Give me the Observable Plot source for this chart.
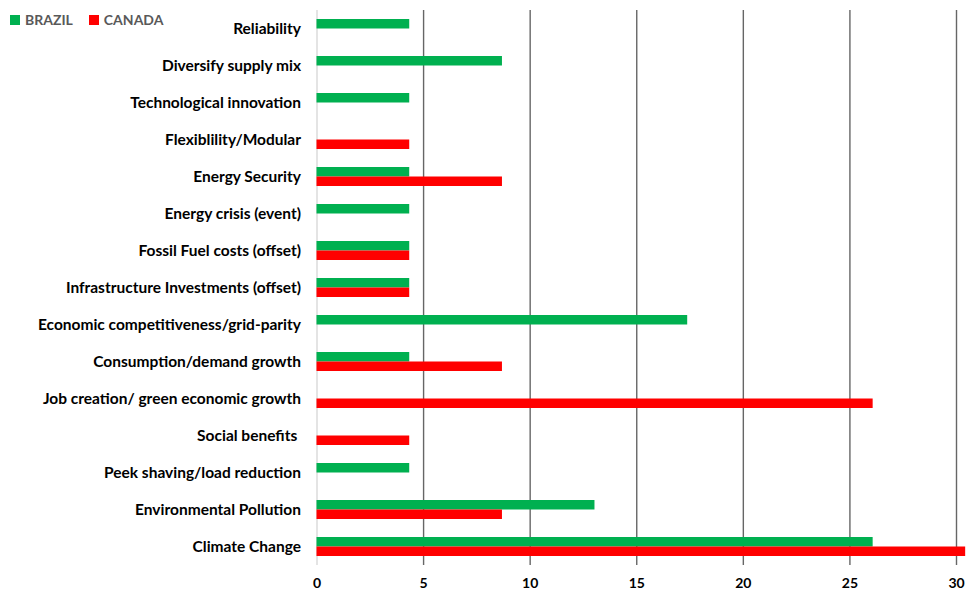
<!DOCTYPE html>
<html>
<head>
<meta charset="utf-8">
<script src="https://cdn.jsdelivr.net/npm/d3@7"></script>
<script src="https://cdn.jsdelivr.net/npm/@observablehq/plot@0.6"></script>
<style>
  html, body { margin: 0; padding: 0; background: #fff; }
  #wrap { position: relative; width: 968px; height: 592px; font-family: Lato, "Open Sans", sans-serif; }
  #legend { position: absolute; left: 10px; top: 11px; display: flex; gap: 16px; font-size: 14px; font-weight: bold; color: #595959; }
  #legend span.item { display: flex; align-items: center; gap: 5px; }
  #legend span.sw { display: inline-block; width: 10px; height: 10px; }
  #chart g[aria-label="y-axis tick label"] text { font-size: 15.5px; }
</style>
</head>
<body>
<div id="wrap">
  <div id="chart"></div>
  <div id="legend"></div>
</div>
<script>
// Drivers, listed top to bottom
const categories = [
  "Reliability",
  "Diversify supply mix",
  "Technological innovation",
  "Flexiblility/Modular",
  "Energy Security",
  "Energy crisis (event)",
  "Fossil Fuel costs (offset)",
  "Infrastructure Investments (offset)",
  "Economic competitiveness/grid-parity",
  "Consumption/demand growth",
  "Job creation/ green economic growth",
  "Social benefits ",
  "Peek shaving/load reduction",
  "Environmental Pollution",
  "Climate Change"
];

// Share of mentions (%), null where a country has none
const brazil = [4.35, 8.70, 4.35, null, 4.35, 4.35, 4.35, 4.35, 17.39, 4.35, null, null, 4.35, 13.04, 26.09];
const canada = [null, null, null, 4.35, 8.70, null, 4.35, 4.35, null, 8.70, 26.09, 4.35, null, 8.70, 30.43];

const series = ["BRAZIL", "CANADA"];
const colors = ["#00B050", "#FF0000"];
const xTicks = [0, 5, 10, 15, 20, 25, 30];

const rowsFor = (values) =>
  categories.map((c, i) => ({category: c, value: values[i]})).filter(d => d.value != null);

const brazilRows = rowsFor(brazil);
const canadaRows = rowsFor(canada);

const chart = Plot.plot({
  width: 968,
  height: 592,
  marginTop: 10,
  marginBottom: 27,
  marginLeft: 316.5,
  marginRight: 12,
  style: {fontFamily: "Lato, 'Open Sans', sans-serif", fontSize: "14px", fontWeight: "bold", color: "#000"},
  x: {domain: [0, 30], ticks: xTicks, tickSize: 0, tickPadding: 13, label: null},
  y: {domain: categories, padding: 0, tickSize: 0, tickPadding: 16, label: null},
  marks: [
    Plot.ruleX(xTicks.filter(t => t > 0), {stroke: "#666", strokeWidth: 1.4}),
    Plot.ruleX([0], {stroke: "#d9d9d9", strokeWidth: 1.4}),
    Plot.barX(brazilRows, {x: "value", y: "category", fill: colors[0], insetTop: 9, insetBottom: 18.5}),
    Plot.barX(canadaRows, {x: "value", y: "category", fill: colors[1], insetTop: 18.5, insetBottom: 9})
  ]
});
document.getElementById("chart").appendChild(chart);

// Series key
const legend = document.getElementById("legend");
series.forEach((s, i) => {
  const item = document.createElement("span");
  item.className = "item";
  const sw = document.createElement("span");
  sw.className = "sw";
  sw.style.background = colors[i];
  item.appendChild(sw);
  item.appendChild(document.createTextNode(s));
  legend.appendChild(item);
});
</script>
</body>
</html>
